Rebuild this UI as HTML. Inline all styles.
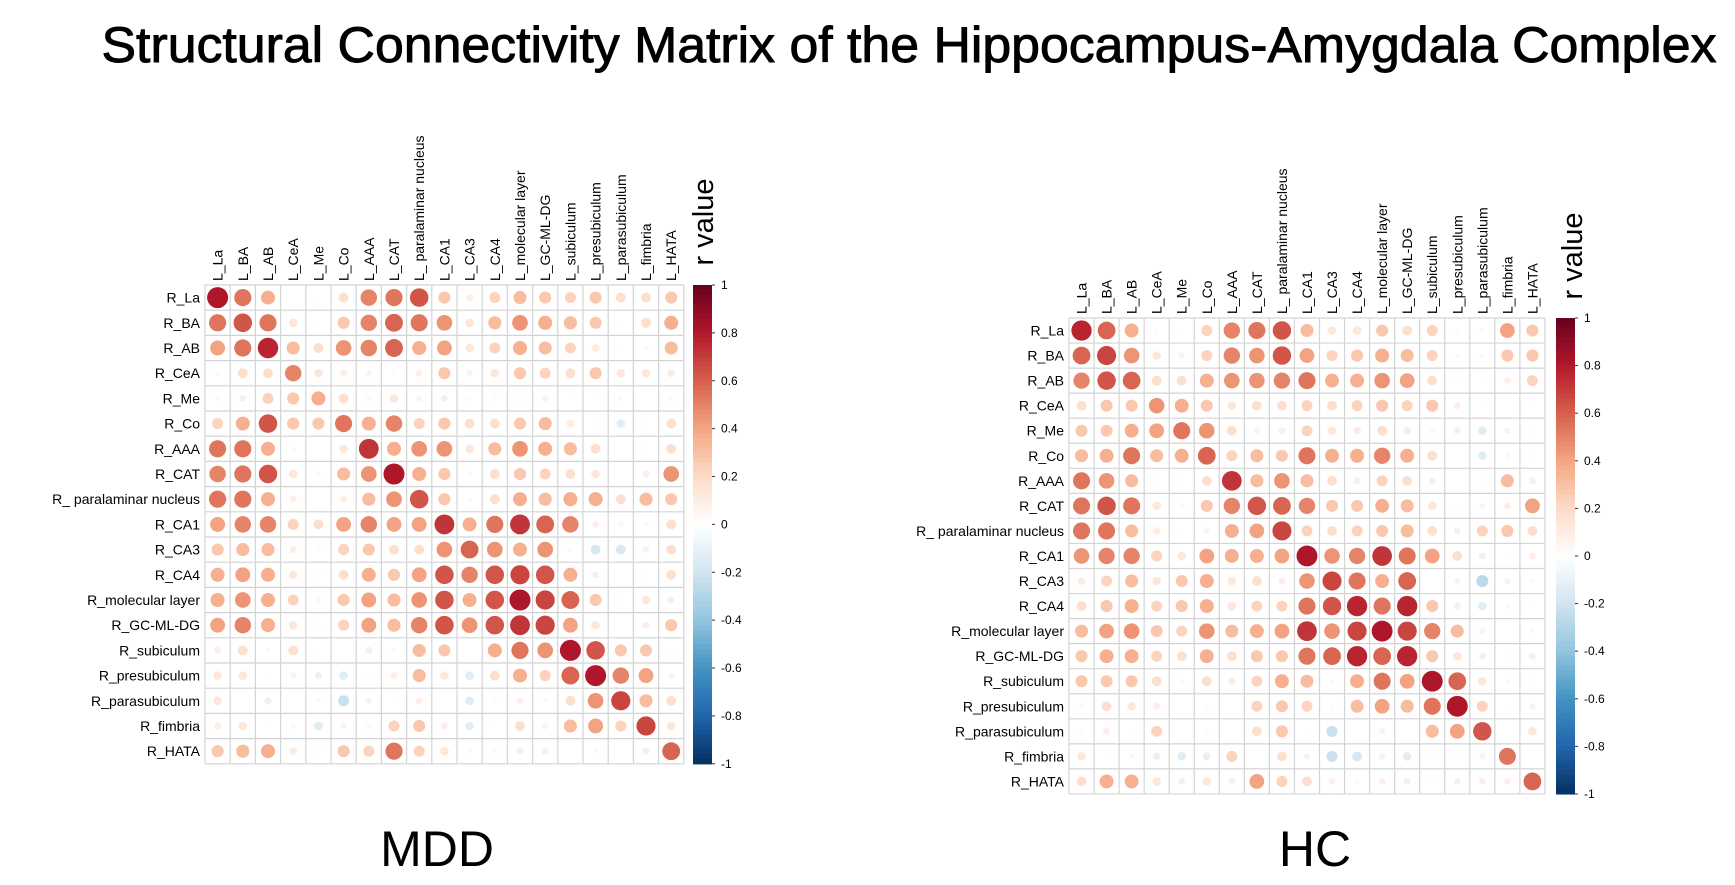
<!DOCTYPE html>
<html><head><meta charset="utf-8"><style>
html,body{margin:0;padding:0;background:#fff}
svg{display:block}
text{font-family:"Liberation Sans",sans-serif}
</style></head><body>
<svg id="root" width="1735" height="885" viewBox="0 0 1735 885" xmlns="http://www.w3.org/2000/svg">
<text x="909" y="62" font-size="50" text-anchor="middle" textLength="1615" lengthAdjust="spacingAndGlyphs" stroke="#000" stroke-width="0.9">Structural Connectivity Matrix of the Hippocampus-Amygdala Complex</text>
<text x="437" y="866" font-size="50" text-anchor="middle">MDD</text>
<text x="1315" y="866" font-size="50" text-anchor="middle">HC</text>
</svg>
<script>
const rowLabels=["R_La","R_BA","R_AB","R_CeA","R_Me","R_Co","R_AAA","R_CAT","R_ paralaminar nucleus","R_CA1","R_CA3","R_CA4","R_molecular layer","R_GC-ML-DG","R_subiculum","R_presubiculum","R_parasubiculum","R_fimbria","R_HATA"];
const colLabels=["L_La","L_BA","L_AB","L_CeA","L_Me","L_Co","L_AAA","L_CAT","L_ paralaminar nucleus","L_CA1","L_CA3","L_CA4","L_molecular layer","L_GC-ML-DG","L_subiculum","L_presubiculum","L_parasubiculum","L_fimbria","L_HATA"];
const tickValues=[1,0.8,0.6,0.4,0.2,0,-0.2,-0.4,-0.6,-0.8,-1];
const mddValues=[
[.9,.6,.4,0,.02,.2,.55,.6,.7,.3,.1,.25,.35,.3,.25,.3,.2,.2,.3],
[.6,.7,.6,.15,.02,.3,.55,.65,.6,.5,.15,.35,.5,.4,.35,.3,.03,.2,.4],
[.45,.6,.85,.35,.2,.5,.55,.65,.4,.45,.15,.25,.4,.35,.25,.12,-.02,.05,.35],
[.05,.2,.2,.55,.15,.1,.08,.03,.1,.3,.08,.15,.3,.25,.2,.3,.15,.15,.12],
[.05,.1,.25,.3,.4,.2,.05,.15,.08,.1,.03,.03,.03,.08,.02,.02,.05,0,.05],
[.25,.4,.7,.3,.3,.6,.4,.55,.25,.3,.2,.2,.3,.35,.12,-.03,-.15,-.03,.2],
[.6,.6,.4,.05,0,.15,.8,.4,.5,.5,.15,.35,.5,.4,.35,.2,0,.02,.2],
[.55,.6,.7,.15,.05,.35,.5,.9,.4,.3,.05,.2,.3,.25,.2,.15,0,.1,.5],
[.6,.6,.4,.1,0,.1,.35,.5,.7,.3,.05,.2,.4,.35,.4,.4,.2,.35,.3],
[.45,.55,.55,.25,.2,.45,.55,.45,.45,.8,.4,.6,.8,.65,.55,.1,-.05,.05,.2],
[.3,.35,.35,.1,.03,.25,.3,.2,.2,.5,.65,.5,.4,.5,.05,-.2,-.2,-.08,.2],
[.4,.45,.4,.15,.03,.2,.4,.3,.45,.7,.55,.7,.75,.7,.4,.1,0,.02,.2],
[.4,.5,.4,.25,.05,.3,.45,.35,.5,.7,.4,.7,.9,.75,.65,.3,.02,.15,.1],
[.45,.55,.4,.15,.03,.25,.45,.35,.55,.7,.5,.7,.8,.75,.45,.15,0,.1,.3],
[.1,.2,.05,.2,-.02,0,.1,.05,.35,.3,0,.4,.6,.5,.9,.7,.3,.3,.03],
[.15,.15,.02,.08,-.1,-.15,.02,.1,.35,.15,-.15,.2,.4,.25,.65,.9,.55,.45,.08],
[.15,0,-.1,0,-.05,-.25,-.08,-.01,.1,0,-.15,.03,.1,.05,.2,.5,.75,.35,.2],
[.1,.15,.02,-.05,-.15,-.08,.05,.25,.3,.1,-.15,.01,.2,.08,.35,.45,.25,.75,.15],
[.3,.35,.4,.12,.03,.3,.25,.6,.25,.15,.05,.05,.1,.1,0,.05,0,.1,.65]];
const hcValues=[
[.85,.65,.4,.03,.02,.25,.55,.6,.7,.35,.15,.15,.3,.2,.25,.03,.05,.45,.3],
[.65,.75,.5,.15,.08,.25,.55,.5,.7,.45,.25,.3,.4,.35,.25,.05,.05,.3,.3],
[.55,.7,.65,.2,.2,.4,.5,.5,.55,.6,.4,.4,.5,.45,.2,.02,.01,.1,.25],
[.2,.3,.3,.5,.4,.3,.15,.2,.2,.25,.2,.25,.3,.25,.3,.1,.01,0,.01],
[.3,.3,.4,.45,.6,.5,.2,.08,.1,.25,.15,.12,.2,.12,.05,-.1,-.15,-.08,-.02],
[.35,.4,.6,.35,.4,.65,.25,.35,.3,.6,.4,.4,.55,.4,.2,0,-.15,-.05,-.02],
[.6,.5,.35,.02,.02,.2,.8,.35,.5,.35,.2,.1,.25,.2,.1,0,-.02,.35,.1],
[.6,.7,.6,.15,.05,.3,.55,.7,.65,.55,.3,.3,.4,.35,.15,.02,.07,.1,.45],
[.6,.6,.35,.12,.02,.08,.4,.45,.75,.25,.2,.25,.3,.35,.2,.1,.25,.3,.2],
[.5,.55,.55,.25,.15,.45,.4,.4,.45,.9,.5,.55,.8,.6,.45,.2,-.1,.02,.1],
[.12,.25,.35,.15,.3,.4,.15,.2,.1,.5,.75,.6,.4,.65,0,-.08,-.3,-.08,.05],
[.2,.3,.4,.25,.3,.4,.15,.25,.25,.6,.7,.85,.6,.85,.3,.1,-.15,-.05,.02],
[.35,.45,.5,.3,.25,.5,.35,.4,.45,.8,.5,.75,.9,.75,.55,.35,-.08,0,.05],
[.3,.4,.4,.25,.2,.4,.2,.3,.3,.6,.65,.85,.65,.85,.3,.15,-.1,-.03,.1],
[.3,.3,.3,.2,.05,.2,.12,.25,.4,.35,.05,.4,.6,.45,.9,.65,.15,.05,.03],
[.05,.2,.15,.1,0,.03,0,.25,.3,.25,.03,.35,.45,.35,.6,.9,.25,.02,.08],
[.03,.1,.02,.25,0,-.03,0,.2,.3,.02,-.25,0,.08,0,.35,.45,.7,0,.15],
[.15,.03,-.05,-.12,-.15,-.12,.25,0,.2,-.08,-.25,-.2,-.08,-.15,.02,.02,.08,.6,0],
[.2,.4,.4,.15,.1,.15,.1,.45,.25,.2,.1,.05,.1,.1,.03,.1,.1,.1,.65]];

const NS="http://www.w3.org/2000/svg";
const root=document.getElementById('root');
const pal=["#053061","#2166AC","#4393C3","#92C5DE","#D1E5F0","#FFFFFF","#FDDBC7","#F4A582","#D6604D","#B2182B","#67001F"];
function hx(c){return [1,3,5].map(i=>parseInt(c.substr(i,2),16));}
function colorOf(v){const t=(Math.max(-1,Math.min(1,v))+1)/2*10;const i=Math.min(9,Math.floor(t));const f=t-i;const a=hx(pal[i]),b=hx(pal[i+1]);return "rgb("+a.map((x,k)=>Math.round(x+(b[k]-x)*f)).join(",")+")";}
function mk(tag,attrs,parent){const e=document.createElementNS(NS,tag);for(const k in attrs)e.setAttribute(k,attrs[k]);(parent||root).appendChild(e);return e;}

function panel(name,values,x0,y0,cell,cbx,rvx,rvy){
  const g=mk('g',{});
  
  
  const n=rowLabels.length;
  const xs=i=>x0+i*cell, ys=j=>y0+j*cell;
  for(let i=0;i<=n;i++){
    mk('line',{x1:xs(i),y1:y0,x2:xs(i),y2:ys(n),stroke:"#d4d4d4","stroke-width":1.2},g);
    mk('line',{x1:x0,y1:ys(i),x2:xs(n),y2:ys(i),stroke:"#d4d4d4","stroke-width":1.2},g);
  }
  for(let r=0;r<n;r++){
    const t=mk('text',{x:x0-5,y:ys(r)+cell/2+5,"font-size":14,"text-anchor":"end"},g);
    
    
    t.textContent=rowLabels[r];
  }
  for(let c=0;c<n;c++){
    const cx=xs(c)+cell/2+5, cy=y0-4;
    const t=mk('text',{x:cx,y:cy,"font-size":14,transform:"rotate(-90 "+cx+" "+cy+")"},g);
    
    
    t.textContent=colLabels[c];
  }
  for(let r=0;r<n;r++)for(let c=0;c<n;c++){
    const v=values[r][c];
    if(Math.abs(v)<0.005)continue;
    const circ=mk('circle',{cx:xs(c)+cell/2,cy:ys(r)+cell/2,r:Math.sqrt(Math.abs(v))*cell*0.44,fill:colorOf(v*0.9)},g);
    
    
  }
  const cb=mk('g',{});
  
  
  const h=n*cell, steps=100;
  for(let k=0;k<steps;k++){
    const v=1-2*(k+0.5)/steps;
    mk('rect',{x:cbx,y:y0+k*h/steps,width:19,height:h/steps+0.6,fill:colorOf(v)},cb);
  }
  const yv=v=>y0+(1-v)/2*h;
  tickValues.forEach(v=>{
    mk('line',{x1:cbx+19,y1:yv(v),x2:cbx+22,y2:yv(v),stroke:"#333"},cb);
    const t=mk('text',{x:cbx+28,y:yv(v)+4,"font-size":12},cb);
    
    
    t.textContent=String(v);
  });
  const rv=mk('text',{x:rvx,y:rvy,"font-size":29,"text-anchor":"middle",transform:"rotate(-90 "+rvx+" "+rvy+")"});
  
  
  rv.textContent="r value";
}
panel('mdd',mddValues,205,285,25.2,693,713,222);
panel('hc',hcValues,1069,318,25.05,1556,1582,256);
</script>
</body></html>
